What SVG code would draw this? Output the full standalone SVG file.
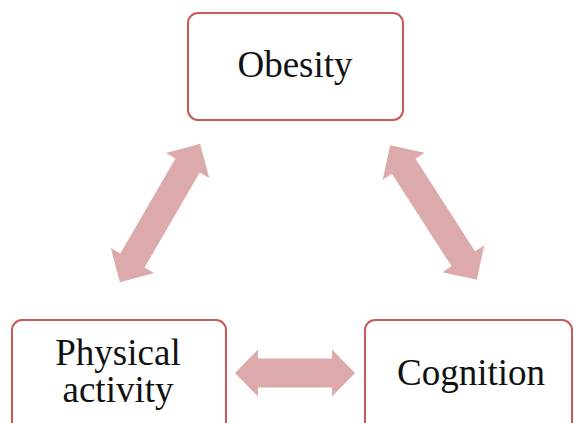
<svg xmlns="http://www.w3.org/2000/svg" width="574" height="423" viewBox="0 0 574 423">
<defs>
<style>
.box{fill:#fff;stroke:#c9595b;stroke-width:2}
.arr{fill:#dcaaaa}
text{font-family:'Liberation Serif','Times New Roman','DejaVu Serif',serif;font-size:37px;fill:#111;text-anchor:middle}
</style>
<path id="a160" d="M-80,0 L-55,-25 L-55,-14 L55,-14 L55,-25 L80,0 L55,25 L55,14 L-55,14 L-55,25 Z"/>
</defs>
<rect width="574" height="423" fill="#fff"/>
<g id="connectors" class="arr">
<path d="M235,373 L258,349.5 L258,358.5 L332,358.5 L332,349.5 L355,373 L332,396.5 L332,387.5 L258,387.5 L258,396.5 Z"/>
<use href="#a160" transform="translate(160,213) rotate(-59.9)"/>
<use href="#a160" transform="translate(433.5,212.5) rotate(57.2)"/>
</g>
<g id="obesity">
<rect class="box" x="188" y="13" width="215" height="107" rx="10"/>
<text x="295" y="77">Obesity</text>
</g>
<g id="physical-activity">
<rect class="box" x="12" y="320" width="214" height="112" rx="10"/>
<text x="118" y="365">Physical</text>
<text x="118" y="402">activity</text>
</g>
<g id="cognition">
<rect class="box" x="365" y="320" width="207" height="112" rx="10"/>
<text x="471" y="385">Cognition</text>
</g>
</svg>
